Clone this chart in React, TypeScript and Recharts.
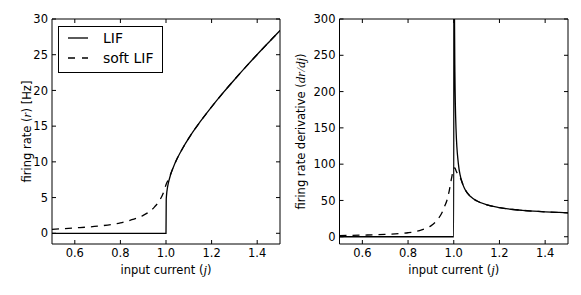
import React from 'react';
import { LineChart, Line, XAxis, YAxis, Customized } from 'recharts';

const FONT = 'DejaVu Sans, sans-serif';
const MATH = 'Liberation Serif, DejaVu Serif, serif';

// tick labels
const xTicks = [0.6, 0.8, 1.0, 1.2, 1.4];
const rateTicks = [0, 5, 10, 15, 20, 25, 30];
const derivTicks = [0, 50, 100, 150, 200, 250, 300];

// shared tail (j > 1.05, where LIF and soft LIF coincide)
const tailJ = [1.05, 1.075, 1.1, 1.15, 1.2, 1.25, 1.3, 1.35, 1.4, 1.45, 1.5];
const tailRate = [10.53, 12.01, 13.32, 15.62, 17.7, 19.65, 21.5, 23.29, 25.03, 26.72, 28.39];
const tailDeriv = [64.8, 55, 49.5, 43.4, 40.1, 37.9, 36.4, 35.2, 34.3, 33.6, 33.0];

// LIF head
const lifHeadJ = [0.5, 1.0, 1.001, 1.002, 1.003, 1.005, 1.01, 1.02, 1.03];
const lifHeadRate = [0, 0, 4.68, 5.2, 5.56, 6.09, 6.98, 8.19, 9.08];
const lifHeadDeriv = [0, 0, 672, 414, 315, 227, 148, 101, 82];

// soft LIF head
const softRateHeadJ = [0.5, 0.6, 0.7, 0.8, 0.85, 0.9, 0.93, 0.95, 0.97, 0.99, 1.0, 1.01, 1.02, 1.03];
const softRateHead = [0.55, 0.75, 1.0, 1.45, 1.9, 2.5, 3.1, 3.7, 4.5, 5.8, 6.8, 7.5, 8.25, 9.1];
const softDerivHeadJ = [0.5, 0.6, 0.7, 0.8, 0.85, 0.88, 0.9, 0.93, 0.95, 0.96, 0.97, 0.98, 0.99, 1.0, 1.005, 1.01, 1.02, 1.03];
const softDerivHead = [1.5, 2.2, 3.3, 5.5, 8.5, 12, 15, 24, 34, 42, 50, 63, 80, 94, 95, 91, 85, 80];

const zip = (xs: number[], ys: number[]) => xs.map((x, i) => ({ x, y: ys[i] }));

const lifRateData = zip([...lifHeadJ, ...tailJ], [...lifHeadRate, ...tailRate]);
const softRateData = zip([...softRateHeadJ, ...tailJ], [...softRateHead, ...tailRate]);
const lifDerivData = zip([...lifHeadJ, ...tailJ], [...lifHeadDeriv, ...tailDeriv]);
const softDerivData = zip([...softDerivHeadJ, ...tailJ], [...softDerivHead, ...tailDeriv]);

const TICK_FS = 11.5;
const LABEL_FS = 11.5;

const BottomTick = (p: any) => (
  <g>
    <line x1={p.x} x2={p.x} y1={p.y} y2={p.y - 4} stroke="#000" strokeWidth={1} />
    <text x={p.x} y={p.y + 13} textAnchor="middle" fontFamily={FONT} fontSize={TICK_FS} fill="#000">
      {Number(p.payload.value).toFixed(1)}
    </text>
  </g>
);
const TopTick = (p: any) => (
  <line x1={p.x} x2={p.x} y1={p.y} y2={p.y + 4} stroke="#000" strokeWidth={1} />
);
const LeftTick = (p: any) => (
  <g>
    <line x1={p.x} x2={p.x + 4} y1={p.y} y2={p.y} stroke="#000" strokeWidth={1} />
    <text x={p.x - 4} y={p.y + 4.2} textAnchor="end" fontFamily={FONT} fontSize={TICK_FS} fill="#000">
      {p.payload.value}
    </text>
  </g>
);
const RightTick = (p: any) => (
  <line x1={p.x} x2={p.x - 4} y1={p.y} y2={p.y} stroke="#000" strokeWidth={1} />
);

const XLabel = (p: any) => {
  const vb = p.viewBox || {};
  const cx = vb.x + vb.width / 2;
  return (
    <text x={cx} y={vb.y + 30} textAnchor="middle" fontFamily={FONT} fontSize={LABEL_FS} fill="#000">
      input current (<tspan fontFamily={MATH} fontStyle="italic" fontSize={13}>j</tspan>)
    </text>
  );
};

const makeYLabel = (bx: number, kind: 'rate' | 'deriv') => (p: any) => {
  const vb = p.viewBox || {};
  const cy = vb.y + vb.height / 2;
  return (
    <text
      x={bx}
      y={cy}
      transform={`rotate(-90, ${bx}, ${cy})`}
      textAnchor="middle"
      fontFamily={FONT}
      fontSize={LABEL_FS}
      fill="#000"
    >
      {kind === 'rate' ? (
        <>
          firing rate (<tspan fontFamily={MATH} fontStyle="italic" fontSize={13}>r</tspan>) [Hz]
        </>
      ) : (
        <>
          firing rate derivative (<tspan fontFamily={MATH} fontStyle="italic" fontSize={13}>dr/dj</tspan>)
        </>
      )}
    </text>
  );
};

const LegendBox = () => (
  <g>
    <rect x={58.5} y={26.5} width={104} height={46} fill="#fff" stroke="#000" strokeWidth={1} />
    <line x1={68} x2={88} y1={38} y2={38} stroke="#000" strokeWidth={1.3} />
    <line x1={68} x2={88} y1={58} y2={58} stroke="#000" strokeWidth={1.3} strokeDasharray="7 7" />
    <text x={103} y={43} fontFamily={FONT} fontSize={14} fill="#000">LIF</text>
    <text x={103} y={63} fontFamily={FONT} fontSize={14} fill="#000">soft LIF</text>
  </g>
);

const axisLine = { stroke: '#000', strokeWidth: 1 };

function Panel(props: {
  width: number;
  yWidth: number;
  right: number;
  domain: [number, number];
  yTicks: number[];
  lif: { x: number; y: number }[];
  soft: { x: number; y: number }[];
  labelX: number;
  kind: 'rate' | 'deriv';
  legend?: boolean;
}) {
  const { width, yWidth, right, domain, yTicks, lif, soft, labelX, kind, legend } = props;
  return (
    <LineChart width={width} height={295} margin={{ top: 18, right: right - 1, bottom: 50, left: 0 }}>
      <XAxis
        xAxisId="b"
        type="number"
        dataKey="x"
        domain={[0.5, 1.5]}
        ticks={xTicks}
        interval={0}
        allowDataOverflow
        height={1}
        tickSize={0}
        tickMargin={0}
        tickLine={false}
        axisLine={axisLine}
        tick={<BottomTick />}
        label={<XLabel />}
      />
      <XAxis
        xAxisId="t"
        orientation="top"
        type="number"
        dataKey="x"
        domain={[0.5, 1.5]}
        ticks={xTicks}
        interval={0}
        allowDataOverflow
        height={1}
        tickSize={0}
        tickMargin={0}
        tickLine={false}
        axisLine={axisLine}
        tick={<TopTick />}
      />
      <YAxis
        yAxisId="l"
        type="number"
        domain={domain}
        ticks={yTicks}
        interval={0}
        allowDataOverflow
        width={yWidth}
        tickSize={0}
        tickMargin={0}
        tickLine={false}
        axisLine={axisLine}
        tick={<LeftTick />}
        label={makeYLabel(labelX, kind)}
      />
      <YAxis
        yAxisId="r"
        orientation="right"
        type="number"
        domain={domain}
        ticks={yTicks}
        interval={0}
        allowDataOverflow
        width={1}
        tickSize={0}
        tickMargin={0}
        tickLine={false}
        axisLine={axisLine}
        tick={<RightTick />}
      />
      <Line
        xAxisId="b"
        yAxisId="l"
        data={lif}
        dataKey="y"
        type="monotone"
        stroke="#000"
        strokeWidth={1.3}
        dot={false}
        activeDot={false}
        isAnimationActive={false}
      />
      <Line
        xAxisId="b"
        yAxisId="l"
        data={soft}
        dataKey="y"
        type="monotone"
        stroke="#000"
        strokeWidth={1.3}
        strokeDasharray="7 6"
        dot={false}
        activeDot={false}
        isAnimationActive={false}
      />
      <Line
        xAxisId="t"
        yAxisId="r"
        data={lif}
        dataKey="y"
        stroke="none"
        dot={false}
        activeDot={false}
        legendType="none"
        isAnimationActive={false}
      />
      {legend ? <Customized component={<LegendBox />} /> : null}
    </LineChart>
  );
}

export default function App() {
  return (
    <div style={{ position: 'absolute', left: 0, top: 0, width: 581, height: 295, background: '#fff' }}>
      <div style={{ position: 'absolute', left: 0, top: 0 }}>
        <Panel
          width={290}
          yWidth={52}
          right={10}
          domain={[-1.5, 30]}
          yTicks={rateTicks}
          lif={lifRateData}
          soft={softRateData}
          labelX={30.6}
          kind="rate"
          legend
        />
      </div>
      <div style={{ position: 'absolute', left: 290, top: 0 }}>
        <Panel
          width={291}
          yWidth={49.5}
          right={13}
          domain={[-10, 300]}
          yTicks={derivTicks}
          lif={lifDerivData}
          soft={softDerivData}
          labelX={14.6}
          kind="deriv"
        />
      </div>
    </div>
  );
}
